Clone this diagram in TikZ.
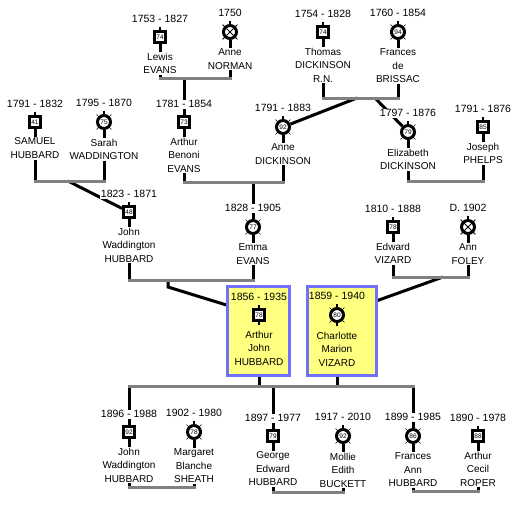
\documentclass[tikz,border=0pt]{standalone}
\usepackage{fontspec}
\setmainfont{Liberation Sans}
\usetikzlibrary{backgrounds}
\definecolor{boxblue}{RGB}{112,112,255}
\definecolor{boxyellow}{RGB}{255,255,128}

\begin{document}
\begin{tikzpicture}[x=1pt,y=-1pt,
    male node/.style={draw,line width=3pt,fill=white,minimum size=11pt,inner sep=0pt,font=\fontsize{6.5}{6.5}\selectfont},
    female node/.style={male node,circle,minimum size=13pt},
    date lbl/.style={fill=white,inner sep=1pt,label distance=5.8pt,font=\fontsize{10.5}{12}\selectfont},
    name lbl/.style={fill=white,inner sep=1pt,label distance=7.8pt,align=center,font=\fontsize{10}{13.5}\selectfont},
    family line/.style={gray,line width=3pt,line cap=rect},
    child line/.style={black,line width=3pt},
    spouse box/.style={draw=boxblue,fill=boxyellow,line width=3pt,inner sep=0pt}]
  \useasboundingbox (0,0) rectangle (518,507);
  % the couple
  \node[spouse box,minimum width=62pt,minimum height=89pt] (boxA) at (258.5,331) {};
  \node[spouse box,minimum width=69pt,minimum height=89pt] (boxC) at (342,331) {};
  \node[male node,label={[date lbl,fill=none]above:1856 - 1935},label={[name lbl,fill=none]below:Arthur\\John\\HUBBARD}] (arthurJ) at (259,315) {78};
  \node[female node,label={[date lbl,fill=none]above:1859 - 1940},label={[name lbl,fill=none]below:Charlotte\\Marion\\VIZARD}] (charlotte) at (337,315) {80};
  % great-grandparents
  \node[male node,label={[date lbl]above:1753 - 1827},label={[name lbl]below:Lewis\\EVANS}] (lewis) at (160,37) {74};
  \node[female node,label={[date lbl]above:1750},label={[name lbl]below:Anne\\NORMAN}] (anneN) at (230,32) {};
  \node[male node,label={[date lbl]above:1754 - 1828},label={[name lbl]below:Thomas\\DICKINSON\\R.N.}] (thomas) at (323,32) {74};
  \node[female node,label={[date lbl]above:1760 - 1854},label={[name lbl]below:Frances\\de\\BRISSAC}] (frances) at (398,32) {94};
  % grandparents
  \node[male node,label={[date lbl]above:1791 - 1832},label={[name lbl]below:SAMUEL\\HUBBARD}] (samuel) at (35,122) {41};
  \node[female node,label={[date lbl]above:1795 - 1870},label={[name lbl]below:Sarah\\WADDINGTON}] (sarah) at (104,122) {75};
  \node[male node,label={[date lbl]above:1781 - 1854},label={[name lbl]below:Arthur\\Benoni\\EVANS}] (arthurB) at (184,122) {73};
  \node[female node,label={[date lbl]above:1791 - 1883},label={[name lbl]below:Anne\\DICKINSON}] (anneD) at (283,127) {92};
  \node[female node,label={[date lbl]above:1797 - 1876},label={[name lbl]below:Elizabeth\\DICKINSON}] (elizabeth) at (408,132) {79};
  \node[male node,label={[date lbl]above:1791 - 1876},label={[name lbl]below:Joseph\\PHELPS}] (joseph) at (483,127) {85};
  % parents
  \node[male node,label={[date lbl]above:1823 - 1871},label={[name lbl]below:John\\Waddington\\HUBBARD}] (johnW) at (129,212) {48};
  \node[female node,label={[date lbl]above:1828 - 1905},label={[name lbl]below:Emma\\EVANS}] (emma) at (253,227) {77};
  \node[male node,label={[date lbl]above:1810 - 1888},label={[name lbl]below:Edward\\VIZARD}] (edward) at (393,227) {78};
  \node[female node,label={[date lbl]above:D. 1902},label={[name lbl]below:Ann\\FOLEY}] (annF) at (468,227) {};
  % children
  \node[male node,label={[date lbl]above:1896 - 1988},label={[name lbl]below:John\\Waddington\\HUBBARD}] (johnJ) at (129,432) {92};
  \node[female node,label={[date lbl]above:1902 - 1980},label={[name lbl]below:Margaret\\Blanche\\SHEATH}] (margaret) at (194,432) {78};
  \node[male node,label={[date lbl]above:1897 - 1977},label={[name lbl]below:George\\Edward\\HUBBARD}] (george) at (273,436) {79};
  \node[female node,label={[date lbl]above:1917 - 2010},label={[name lbl]below:Mollie\\Edith\\BUCKETT}] (mollie) at (343,436) {92};
  \node[female node,label={[date lbl]above:1899 - 1985},label={[name lbl]below:Frances\\Ann\\HUBBARD}] (francesA) at (413,436) {86};
  \node[male node,label={[date lbl]above:1890 - 1978},label={[name lbl]below:Arthur\\Cecil\\ROPER}] (arthurC) at (478,436) {88};

  \foreach \n in {anneN,frances,sarah,anneD,elizabeth,emma,annF,charlotte,margaret,mollie,francesA}
    \foreach \a in {45,135,225,315}
      \draw[line width=0.6pt] (\n) ++(\a:8pt) -- ++(\a:2.5pt);
  \foreach \n in {anneN,annF}
    \draw[line width=0.8pt] (\n) ++(45:10pt) -- ++(225:20pt) (\n) ++(135:10pt) -- ++(315:20pt);
  \foreach \n in {lewis,anneN,thomas,frances,samuel,sarah,arthurB,anneD,elizabeth,joseph,johnW,emma,edward,annF,arthurJ,charlotte,johnJ,margaret,george,mollie,francesA,arthurC}
    \draw[line width=1.5pt] (\n.north) -- ++(0,3pt) (\n.south) -- ++(0,-3pt);

  \begin{pgfonlayer}{background}
    \coordinate (mLA) at (184,78);
    \coordinate (mTFa) at (357,98);
    \coordinate (mTFb) at (375,98);
    \coordinate (mSS) at (68,181);
    \coordinate (mAA) at (253,182);
    \coordinate (mEJ) at (445,181);
    \coordinate (mJE) at (168,280);
    \coordinate (mEA) at (443,277);
    \coordinate (mAC) at (273,386);
    \coordinate (mJM) at (160,487);
    \coordinate (mGM) at (308,492);
    \coordinate (mFA) at (445,491);
    % descent
    \path[child line] (mLA) edge (arthurB);
    \path[child line] (mTFa) edge (anneD);
    \path[child line] (mTFb) edge (elizabeth);
    \path[child line] (mSS) edge (johnW);
    \path[child line] (mAA) edge (emma);
    \draw[child line] (mJE) -- ++(0,7) -- (arthurJ);
    \path[child line] (mEA) edge (charlotte);
    \path[child line] (johnJ|-mAC) edge (johnJ);
    \path[child line] (george|-mAC) edge (george);
    \path[child line] (francesA|-mAC) edge (francesA);
    % spouses
    \foreach \n/\m in {lewis/mLA,anneN/mLA,thomas/mTFa,frances/mTFa,samuel/mSS,sarah/mSS,arthurB/mAA,anneD/mAA,elizabeth/mEJ,joseph/mEJ,johnW/mJE,emma/mJE,edward/mEA,annF/mEA,arthurJ/mAC,charlotte/mAC,johnJ/mJM,margaret/mJM,george/mGM,mollie/mGM,francesA/mFA,arthurC/mFA}
      \path[child line] (\n) edge (\n|-\m);
    \path[family line] (lewis|-mLA) edge (anneN|-mLA);
    \path[family line] (thomas|-mTFa) edge (frances|-mTFa);
    \path[family line] (samuel|-mSS) edge (sarah|-mSS);
    \path[family line] (arthurB|-mAA) edge (anneD|-mAA);
    \path[family line] (elizabeth|-mEJ) edge (joseph|-mEJ);
    \path[family line] (johnW|-mJE) edge (emma|-mJE);
    \path[family line] (edward|-mEA) edge (annF|-mEA);
    \path[family line] (johnJ|-mAC) edge (francesA|-mAC);
    \path[family line] (johnJ|-mJM) edge (margaret|-mJM);
    \path[family line] (george|-mGM) edge (mollie|-mGM);
    \path[family line] (francesA|-mFA) edge (arthurC|-mFA);
  \end{pgfonlayer}
\end{tikzpicture}
\end{document}
